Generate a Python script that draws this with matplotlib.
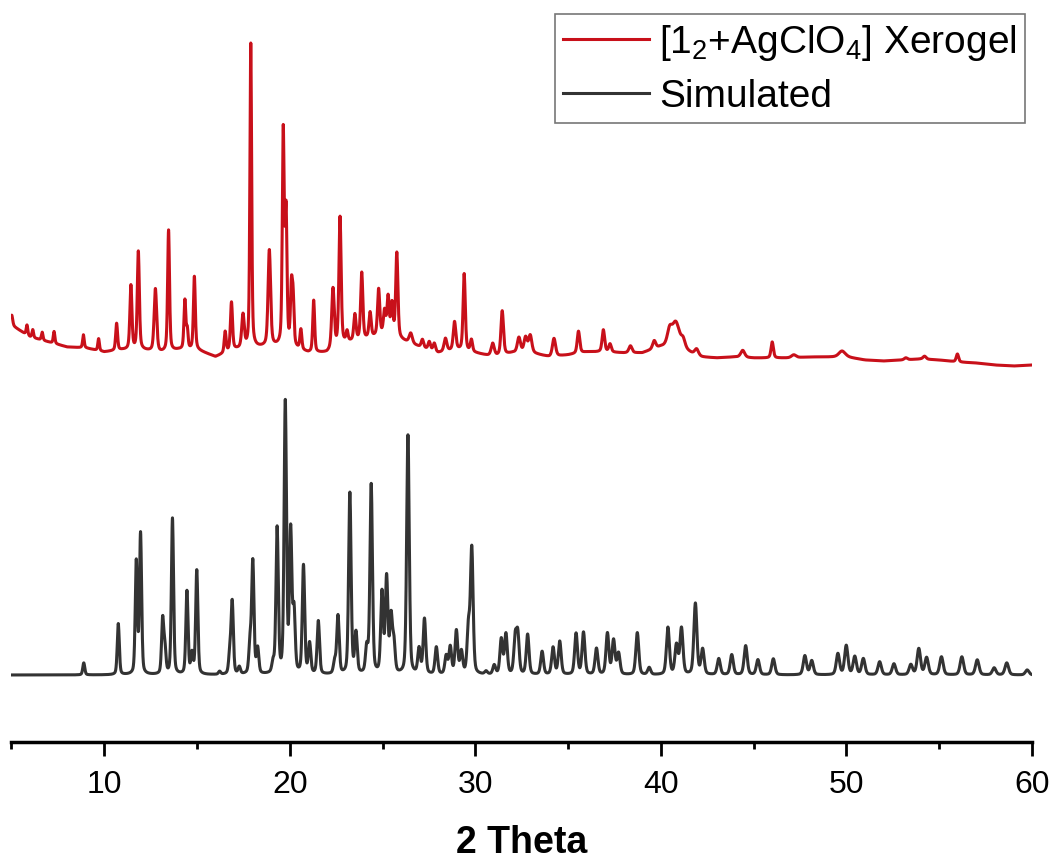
"""
PXRD comparison: [1_2+AgClO4] xerogel vs simulated pattern
"""

import numpy as np
import matplotlib.pyplot as plt
from matplotlib.ticker import MultipleLocator

plt.rcParams['font.family'] = ['Liberation Sans', 'DejaVu Sans']
plt.rcParams['mathtext.default'] = 'regular'

# xerogel (measured) - peak positions (2 theta), heights (a.u.), widths (FWHM, deg)
xerogel_pos = [5.02, 5.84, 6.15, 6.66, 7.30, 8.88, 9.70, 10.67, 11.44, 11.84,
               12.76, 13.47, 14.35, 14.48, 14.86, 16.52, 16.86, 17.48, 17.90, 18.90,
               19.65, 19.80, 20.09, 20.18, 20.60, 21.29, 22.33, 22.71, 23.09, 23.51,
               23.88, 24.33, 24.79, 25.11, 25.30, 25.51, 25.77, 26.52, 27.15, 27.52,
               27.79, 28.39, 28.88, 29.40, 29.79, 30.94, 31.45, 32.35, 32.71, 32.96,
               34.24, 35.56, 36.90, 37.26, 38.36, 39.64, 40.47, 40.80, 41.20, 41.93,
               44.41, 46.00, 47.16, 49.76, 53.20, 54.21, 55.98]
xerogel_height = [10, 10, 8, 8, 12, 13, 12, 27, 64, 98,
                  63, 121, 49, 18, 73, 21, 48, 33, 304, 96,
                  212, 130, 55, 45, 20, 52, 60, 128, 10, 26,
                  67, 25, 46, 23, 38, 32, 85, 10, 8, 8,
                  8, 13, 28, 77, 12, 13, 44, 15, 15, 17,
                  18, 22, 22, 8, 7, 8, 15, 24, 8, 7,
                  7, 16, 3, 6, 2, 3, 8]
xerogel_fwhm = [0.12, 0.10, 0.10, 0.10, 0.10, 0.10, 0.10, 0.12, 0.13, 0.13,
                0.16, 0.12, 0.12, 0.10, 0.12, 0.12, 0.13, 0.16, 0.11, 0.16,
                0.12, 0.12, 0.12, 0.12, 0.12, 0.12, 0.16, 0.14, 0.12, 0.14,
                0.14, 0.14, 0.14, 0.14, 0.14, 0.14, 0.14, 0.20, 0.15, 0.15,
                0.15, 0.18, 0.16, 0.14, 0.14, 0.20, 0.16, 0.20, 0.20, 0.20,
                0.20, 0.16, 0.16, 0.16, 0.20, 0.20, 0.30, 0.45, 0.25, 0.25,
                0.25, 0.15, 0.30, 0.40, 0.20, 0.20, 0.15]

# xerogel background level (a.u.)
xerogel_bg_pos = list(range(5, 61))
xerogel_bg = [97, 85, 80, 75, 74, 70, 72, 72, 69, 72,
              72, 65, 72, 74, 75, 75, 69, 69, 79, 82,
              87, 82, 75, 69, 72, 69, 65, 69, 69, 65,
              67, 70, 70, 69, 69, 75, 75, 65, 64, 65,
              64, 64, 64, 65, 65, 65, 62, 61, 62, 63,
              62, 60, 59, 57, 56, 57]

# simulated pattern - peak positions (2 theta) and heights (a.u.)
sim_pos = [8.90, 10.76, 11.73, 11.96, 13.15, 13.27, 13.68, 14.46, 14.73, 14.99,
           16.22, 16.77, 16.90, 17.28, 17.86, 18.01, 18.27, 19.10, 19.32, 19.76,
           20.05, 20.23, 20.74, 21.07, 21.54, 22.42, 22.60, 23.24, 23.57, 24.15,
           24.39, 24.97, 25.22, 25.46, 25.61, 26.37, 26.97, 27.26, 27.90, 28.43,
           28.65, 28.98, 29.25, 29.63, 29.81, 30.58, 31.02, 31.40, 31.65, 32.15,
           32.29, 32.82, 33.60, 34.19, 34.55, 35.43, 35.83, 36.53, 37.12, 37.45,
           37.72, 38.73, 39.37, 40.38, 40.84, 41.11, 41.86, 42.25, 43.12, 43.82,
           44.57, 45.23, 46.06, 47.76, 48.13, 49.54, 49.99, 50.45, 50.91, 51.79,
           52.56, 53.47, 53.90, 54.32, 55.12, 56.22, 57.05, 57.96, 58.64, 59.74]
sim_height = [12, 51, 112, 140, 54, 25, 156, 83, 20, 104,
              3, 20, 72, 7, 30, 112, 25, 10, 145, 270,
              140, 60, 108, 30, 53, 12, 58, 181, 40, 25,
              189, 80, 95, 55, 30, 239, 25, 55, 27, 18,
              27, 43, 22, 45, 125, 3, 9, 35, 40, 35,
              38, 40, 23, 27, 33, 41, 42, 26, 41, 34,
              21, 42, 7, 47, 29, 46, 71, 25, 16, 20,
              29, 15, 16, 19, 14, 21, 29, 18, 16, 13,
              11, 10, 26, 17, 18, 18, 15, 7, 12, 5]

red = '#c8101a'
dark = '#333333'


def pseudo_voigt(x, pos, height, fwhm, eta=0.45):
    y = np.zeros_like(x)
    for c, h, w in zip(pos, height, fwhm):
        hw = w / 2
        lor = 1 / (1 + ((x - c) / hw) ** 2)
        gau = np.exp(-np.log(2) * ((x - c) / hw) ** 2)
        y += h * (eta * lor + (1 - eta) * gau)
    return y


two_theta = np.linspace(5, 60, 5501)

xerogel = np.interp(two_theta, xerogel_bg_pos, xerogel_bg) + \
    pseudo_voigt(two_theta, xerogel_pos, xerogel_height, xerogel_fwhm)
sim_fwhm = [0.11 + 0.002 * p for p in sim_pos]
simulated = pseudo_voigt(two_theta, sim_pos, sim_height, sim_fwhm, eta=0.35)

fig = plt.figure(figsize=(10.53, 8.6), dpi=100)
ax = fig.add_axes([11.4 / 1053, 118 / 860, (1032 - 11.4) / 1053, 742 / 860])

ax.plot(two_theta, xerogel + 320, color=red, linewidth=2.2,
        label=r'[1$_2$+AgClO$_4$] Xerogel')
ax.plot(two_theta, simulated + 67, color=dark, linewidth=2.2, label='Simulated')

ax.set_xlim(5, 60)
ax.set_ylim(0, 742)
for s in ['top', 'left', 'right']:
    ax.spines[s].set_visible(False)
ax.spines['bottom'].set_linewidth(2.5)
ax.set_yticks([])
ax.xaxis.set_major_locator(MultipleLocator(10))
ax.xaxis.set_minor_locator(MultipleLocator(5))
ax.tick_params(axis='x', which='major', length=10, width=2, labelsize=23, pad=10)
ax.tick_params(axis='x', which='minor', length=5, width=2)
ax.set_xlabel('2 Theta', fontsize=27, fontweight='bold', labelpad=18)

leg = ax.legend(loc='upper right', bbox_to_anchor=(1025 / 1053, 1 - 14 / 860),
                bbox_transform=fig.transFigure, fontsize=28, frameon=True,
                fancybox=False, handlelength=2.2, handletextpad=0.25,
                labelspacing=0.42, borderpad=0.22, borderaxespad=0)
leg.get_frame().set_edgecolor('#555555')
leg.get_frame().set_linewidth(1.2)

plt.savefig('out.png', dpi=100)
